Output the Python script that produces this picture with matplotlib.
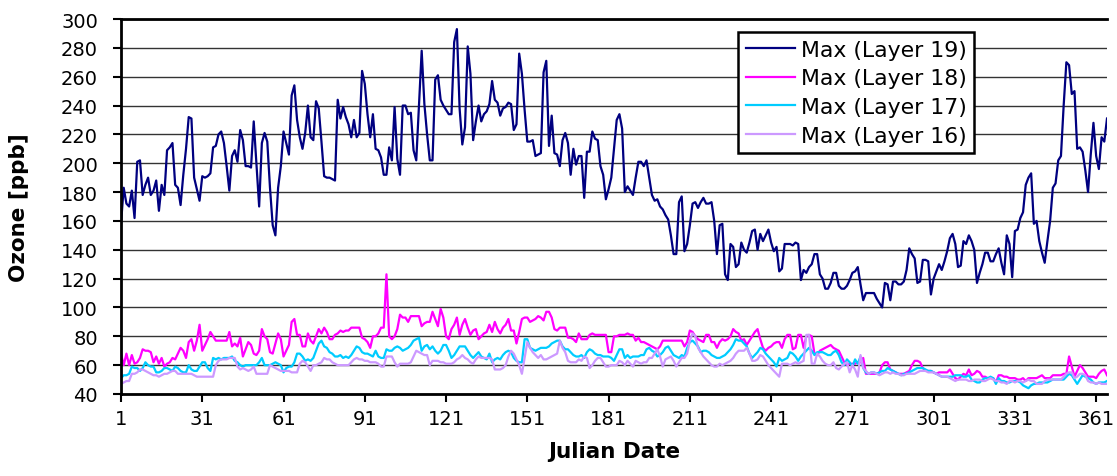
import matplotlib
matplotlib.use("Agg")
import matplotlib.pyplot as plt
import numpy as np

# ---------------- data (daily maximum ozone, ppb) ----------------
days = list(range(1, 366))

layer19 = [
    158,183,172,170,181,162,201,202,178,185,
    190,178,181,188,167,185,178,209,211,214,
    185,183,171,192,210,232,231,190,182,174,
    191,190,191,193,211,212,220,222,214,198,
    181,205,209,201,223,216,198,198,197,
    229,199,170,214,221,215,183,157,150,183,
    198,222,214,206,247,254,230,218,210,221,
    240,218,216,243,238,215,191,190,190,189,
    188,244,231,239,232,227,218,230,218,221,
    264,255,234,218,234,210,209,204,192,192,
    211,202,239,203,192,240,240,234,235,209,
    202,240,278,241,220,202,202,258,261,244,
    240,237,234,234,284,293,238,213,225,281,
    262,216,229,240,229,234,236,241,257,
    244,242,233,238,239,242,241,223,227,276,
    262,237,215,215,216,205,206,207,263,271,
    212,233,207,206,198,216,221,214,192,210,
    199,205,205,176,208,208,222,217,216,198,
    192,175,182,190,210,230,234,224,180,184,
    181,178,190,201,201,198,202,190,178,174,
    175,170,168,164,161,150,137,137,173,177,
    139,144,157,172,173,169,173,176,172,172,
    173,160,137,157,158,123,119,144,142,
    128,130,145,140,138,145,153,154,140,151,
    146,150,154,145,139,142,125,127,144,144,
    144,143,145,144,119,126,124,128,130,137,
    137,123,120,113,113,117,124,124,115,113,
    113,115,119,124,125,128,116,105,110,110,
    110,110,106,103,100,117,116,105,118,118,
    116,116,118,126,141,137,134,117,118,133,
    133,132,109,120,125,130,126,132,139,148,
    151,144,128,129,146,144,150,146,140,117,
    124,130,138,138,132,132,137,141,131,
    123,150,144,121,153,154,162,166,185,190,
    193,158,160,146,138,131,146,160,183,186,
    202,205,240,270,268,248,250,210,211,208,
    195,180,206,228,205,196,218,215,231,
]

layer18 = [
    68,60,68,60,67,61,62,65,71,70,
    70,69,62,66,61,65,59,61,62,65,
    64,68,72,70,65,76,78,70,77,88,
    70,74,78,83,80,77,77,77,77,77,
    83,73,75,73,79,66,71,76,74,
    68,67,70,85,80,78,69,68,75,82,
    78,66,70,74,90,92,81,81,73,73,
    82,77,75,80,85,82,86,83,78,78,
    81,82,84,83,84,84,86,86,86,86,
    79,78,76,72,80,80,82,86,86,123,
    80,78,80,85,95,93,93,90,94,94,
    94,94,87,89,90,90,97,92,87,99,
    93,80,78,85,88,93,81,88,92,86,
    81,84,85,78,80,82,83,88,83,
    90,85,82,86,88,92,84,84,75,83,
    92,93,93,90,91,92,94,93,91,97,
    97,93,85,84,86,86,86,79,79,78,
    76,82,78,78,78,81,82,81,81,81,
    81,81,69,69,80,80,81,81,81,82,
    81,81,77,79,76,76,75,74,73,72,
    71,73,77,77,77,77,77,77,77,77,
    73,76,84,83,80,78,77,76,81,81,
    76,76,72,76,78,77,78,80,85,
    83,82,77,78,74,77,80,83,85,78,
    72,70,72,73,75,76,76,72,78,81,
    81,71,72,81,81,72,80,81,80,68,
    67,70,71,72,73,74,72,71,70,66,
    62,60,61,61,61,62,62,65,54,54,
    54,54,54,55,60,62,62,57,56,55,
    54,54,54,55,56,60,63,63,62,58,
    56,56,56,55,54,55,55,55,55,57,
    54,51,50,52,54,53,57,53,54,56,
    55,52,52,51,51,51,48,53,53,
    52,52,51,51,51,50,50,51,49,51,
    51,51,51,52,53,51,51,51,53,53,
    53,53,54,54,66,59,52,56,60,58,
    55,52,52,52,51,54,56,57,53,
]

layer17 = [
    51,53,53,54,59,58,58,56,58,62,
    60,59,59,55,55,56,58,58,57,56,
    59,58,56,55,55,60,57,56,56,59,
    62,62,58,56,65,64,65,64,65,65,
    65,66,63,62,60,59,60,60,60,
    60,60,62,65,60,60,60,61,62,61,
    60,55,58,59,59,62,68,68,66,63,
    64,63,65,70,75,77,73,72,69,68,
    66,66,67,65,66,65,67,70,73,72,
    69,68,68,67,66,70,66,65,65,71,
    70,70,72,73,72,70,71,72,74,77,
    78,79,70,73,74,71,73,70,68,70,
    74,74,70,65,67,70,73,73,73,70,
    67,65,67,69,66,65,64,68,62,
    64,65,64,67,69,70,69,65,63,62,
    62,78,78,72,71,70,71,72,72,72,
    73,75,76,77,77,73,71,71,69,67,
    66,66,67,65,69,71,70,68,67,67,
    66,66,66,65,63,67,71,71,65,67,
    65,66,66,66,67,67,71,72,70,69,
    66,67,69,72,73,70,67,66,65,67,
    66,72,76,77,75,73,69,70,70,69,
    67,66,65,65,66,67,69,71,74,
    78,77,77,75,73,68,65,67,69,72,
    71,68,66,64,62,59,65,63,64,65,
    69,68,66,63,66,68,70,72,70,67,
    69,69,69,68,67,67,69,70,67,62,
    60,64,62,59,64,61,66,58,55,54,
    55,55,54,55,56,56,58,57,56,55,
    54,53,54,54,55,56,57,58,58,58,
    57,56,56,55,54,53,52,52,52,52,
    52,53,53,53,52,52,53,50,49,48,
    48,50,51,51,52,51,47,51,49,
    49,48,48,49,49,49,48,46,45,44,
    46,47,47,48,48,48,48,49,50,50,
    50,50,50,52,54,53,50,47,50,53,
    52,51,50,48,47,48,48,48,49,
]

layer16 = [
    47,48,49,49,54,54,55,57,57,56,
    55,54,53,53,52,53,54,54,55,56,
    56,54,54,54,54,54,54,53,52,52,
    52,52,52,52,52,60,63,64,64,64,
    65,65,65,59,57,58,57,56,57,
    59,54,54,54,54,54,60,59,58,57,
    56,56,56,56,55,55,55,61,63,62,
    59,56,60,60,61,62,65,64,64,62,
    61,60,60,60,60,60,62,64,65,64,
    64,63,63,62,62,62,61,59,59,66,
    66,66,62,59,61,61,61,61,62,66,
    70,69,68,67,67,60,63,63,63,62,
    62,61,61,61,62,64,65,67,65,64,
    62,61,64,66,65,65,65,65,64,
    57,57,57,58,60,66,70,68,64,60,
    54,65,76,72,69,67,65,67,64,64,
    65,66,67,68,77,72,69,63,62,62,
    62,64,63,66,65,58,60,63,65,65,
    62,59,59,60,60,60,63,62,60,63,
    61,59,63,62,61,62,62,65,65,68,
    71,66,59,64,65,66,63,59,62,65,
    65,68,77,82,80,72,69,66,64,62,
    60,59,59,61,60,61,62,63,65,
    68,70,70,70,72,68,63,63,64,67,
    66,63,60,58,56,54,52,61,61,61,
    60,61,62,61,62,63,81,81,61,61,
    68,66,63,61,60,60,62,58,57,59,
    61,62,55,60,57,52,67,58,56,54,
    55,55,54,53,54,55,55,54,55,54,
    54,53,53,54,54,54,54,55,56,56,
    56,55,55,55,54,53,52,52,52,51,
    50,49,50,50,50,50,49,49,50,50,
    50,49,49,50,51,50,49,49,48,
    48,47,49,49,48,49,49,48,49,50,
    49,49,47,47,47,49,50,50,50,50,
    50,50,52,54,55,55,51,52,54,54,
    53,49,48,48,47,48,47,47,47,
]

series_labels = ["Max (Layer 19)", "Max (Layer 18)", "Max (Layer 17)", "Max (Layer 16)"]
series_colors = ["#000080", "#FF00FF", "#00CCFF", "#CC99FF"]
x_ticks = list(range(1, 366, 30))
y_ticks = list(range(40, 301, 20))

# ---------------- figure ----------------
plt.rcParams['font.family'] = ['DejaVu Sans']
fig = plt.figure(figsize=(11.17, 4.77), dpi=100)
ax = fig.add_axes([121/1117, 1 - 395/477, (1107-121)/1117, (395-20)/477])

for vals, lab, col in zip([layer19, layer18, layer17, layer16], series_labels, series_colors):
    n = min(len(vals), len(days))
    ax.plot(days[:n], vals[:n], color=col, lw=1.6, label=lab)

ax.set_xlim(1, 365)
ax.set_ylim(40, 300)
ax.set_xticks(x_ticks)
ax.set_xticklabels([str(t) for t in x_ticks])
ax.set_yticks(y_ticks)
ax.yaxis.grid(True, color='#333333', lw=1.0)
ax.set_axisbelow(True)
ax.tick_params(axis='both', labelsize=14, length=5.5, width=1.5, direction='out')
ax.tick_params(axis='y', pad=11)
ax.tick_params(axis='x', pad=5)

for side in ['left', 'bottom', 'top']:
    ax.spines[side].set_linewidth(2.0)
    ax.spines[side].set_color('black')
ax.spines['right'].set_visible(False)

ax.set_xlabel("Julian Date", fontsize=15.5, fontweight='bold', labelpad=10)
ax.set_ylabel("Ozone [ppb]", fontsize=15.5, fontweight='bold')
ax.yaxis.set_label_coords(-0.093, 0.5)

leg = ax.legend(loc='upper left', bbox_to_anchor=(0.626, 0.965), fontsize=15.8,
                frameon=True, fancybox=False, edgecolor='black', framealpha=1,
                handlelength=2.25, handletextpad=0.25, labelspacing=0.4,
                borderpad=0.34, borderaxespad=0)
leg.get_frame().set_linewidth(1.8)
for line in leg.get_lines():
    line.set_linewidth(1.6)

fig.savefig("out.png", dpi=100)
